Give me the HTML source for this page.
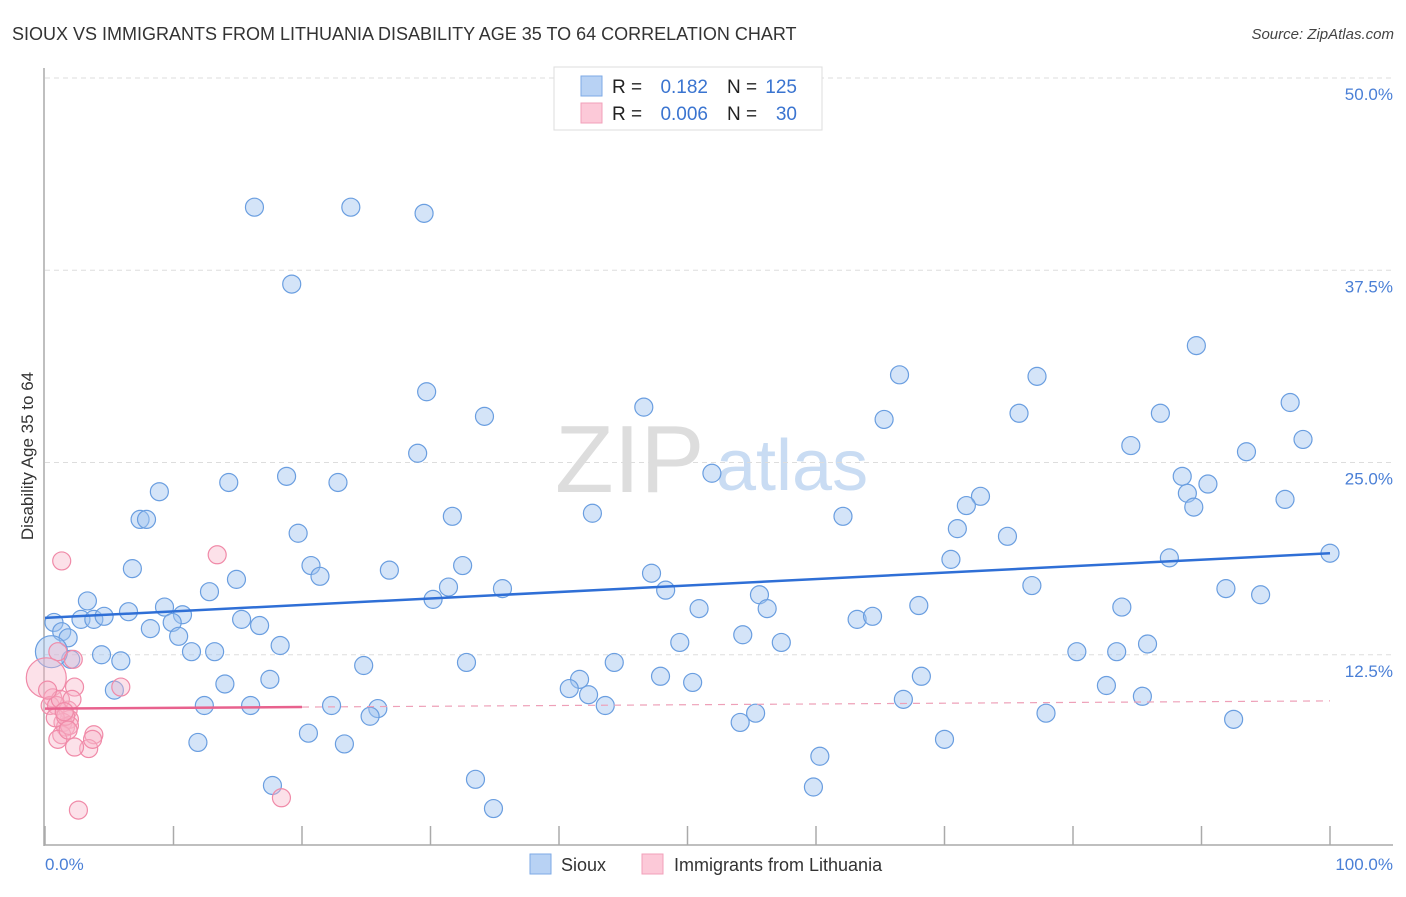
<!DOCTYPE html>
<html><head><meta charset="utf-8"><style>
body{margin:0;background:#fff;font-family:"Liberation Sans",sans-serif;}
svg text{font-family:"Liberation Sans",sans-serif;}
</style></head><body>
<svg id="chart" width="1406" height="892" xmlns="http://www.w3.org/2000/svg">
<text x="12" y="40" font-size="18" fill="#333">SIOUX VS IMMIGRANTS FROM LITHUANIA DISABILITY AGE 35 TO 64 CORRELATION CHART</text>
<text x="1394" y="39" font-size="15" fill="#444" font-style="italic" text-anchor="end">Source: ZipAtlas.com</text>
<g>
<text x="555" y="492" font-size="96" font-family="Liberation Serif" fill="#ddd">ZIP</text>
<text x="716" y="490" font-size="72" fill="#c9dcf3">atlas</text>
</g>
<g id="grid"></g>
<line x1="44" y1="68" x2="44" y2="846" stroke="#aaa" stroke-width="1.5"/>
<line x1="44" y1="845" x2="1393" y2="845" stroke="#aaa" stroke-width="1.5"/>
<g id="ticks"></g>
<text transform="translate(33,456) rotate(-90)" font-size="17" fill="#333" text-anchor="middle">Disability Age 35 to 64</text>
<text x="45" y="870" font-size="17" fill="#4a7fd6">0.0%</text>
<text x="1393" y="870" font-size="17" fill="#4a7fd6" text-anchor="end">100.0%</text>
<g id="points"></g>
<g id="trends"></g>
<g>
<rect x="554" y="67" width="268" height="63" fill="#fff" stroke="#ddd"/>
<rect x="581" y="76" width="21" height="20" fill="#b8d2f4" stroke="#7eaae6"/>
<rect x="581" y="103" width="21" height="20" fill="#fcc9d8" stroke="#f2a0ba"/>
<text x="612" y="93" font-size="19" fill="#222">R = </text><text x="708" y="93" font-size="19" fill="#3a74d0" text-anchor="end">0.182</text>
<text x="727" y="93" font-size="19" fill="#222">N = </text><text x="797" y="93" font-size="19" fill="#3a74d0" text-anchor="end">125</text>
<text x="612" y="120" font-size="19" fill="#222">R = </text><text x="708" y="120" font-size="19" fill="#3a74d0" text-anchor="end">0.006</text>
<text x="727" y="120" font-size="19" fill="#222">N = </text><text x="797" y="120" font-size="19" fill="#3a74d0" text-anchor="end">30</text>
</g>
<g>
<rect x="530" y="854" width="21" height="20" fill="#b8d2f4" stroke="#7eaae6"/>
<text x="561" y="871" font-size="18" fill="#333">Sioux</text>
<rect x="642" y="854" width="21" height="20" fill="#fcc9d8" stroke="#f2a0ba"/>
<text x="674" y="871" font-size="18" fill="#333">Immigrants from Lithuania</text>
</g>
</svg>
<script>
const yTicks=[12.5,25,37.5,50];
const yTickLabels=["12.5%","25.0%","37.5%","50.0%"];
const xTicks=[0,10,20,30,40,50,60,70,80,90,100];
const siouxX=[16.3,23.8,29.5,19.2,29.7,29.0,34.2,46.6,66.5,77.2,89.6,65.3,75.8,86.8,96.9,97.9,84.5,93.5,51.9,88.5,90.5,88.9,89.4,96.5,72.8,71.7,71.0,74.9,62.1,42.6,31.7,14.3,18.8,22.8,8.9,7.4,7.9,19.7,70.5,87.5,100,32.5,20.7,26.8,6.8,14.9,21.4,47.2,31.4,35.6,76.8,91.9,94.6,12.8,30.2,48.3,55.6,3.3,9.3,56.2,50.9,68.0,83.8,6.5,10.7,2.8,3.8,4.6,0.7,15.3,16.7,9.9,63.2,64.4,8.2,1.3,1.8,10.4,54.3,49.4,57.3,85.8,18.3,11.4,13.2,4.4,2.0,5.9,80.3,83.4,24.8,32.8,44.3,41.6,17.5,47.9,50.4,68.2,14.0,5.4,40.8,42.3,82.6,85.4,12.4,16.0,22.3,25.9,43.6,66.8,25.3,55.3,77.9,54.1,92.5,20.5,11.9,23.3,70.0,60.3,33.5,17.7,59.8,34.9,0.5];
const siouxY=[41.6,41.6,41.2,36.6,29.6,25.6,28.0,28.6,30.7,30.6,32.6,27.8,28.2,28.2,28.9,26.5,26.1,25.7,24.3,24.1,23.6,23.0,22.1,22.6,22.8,22.2,20.7,20.2,21.5,21.7,21.5,23.7,24.1,23.7,23.1,21.3,21.3,20.4,18.7,18.8,19.1,18.3,18.3,18.0,18.1,17.4,17.6,17.8,16.9,16.8,17.0,16.8,16.4,16.6,16.1,16.7,16.4,16.0,15.6,15.5,15.5,15.7,15.6,15.3,15.1,14.8,14.8,15.0,14.6,14.8,14.4,14.6,14.8,15.0,14.2,14.0,13.6,13.7,13.8,13.3,13.3,13.2,13.1,12.7,12.7,12.5,12.2,12.1,12.7,12.7,11.8,12.0,12.0,10.9,10.9,11.1,10.7,11.1,10.6,10.2,10.3,9.9,10.5,9.8,9.2,9.2,9.2,9.0,9.2,9.6,8.5,8.7,8.7,8.1,8.3,7.4,6.8,6.7,7.0,5.9,4.4,4.0,3.9,2.5,12.7];
const lithX=[1.3,13.4,1.0,2.2,0.1,2.3,5.9,0.6,0.4,0.9,1.8,1.9,1.4,1.6,1.3,1.0,3.8,3.4,2.3,18.4,2.6,1.9,1.2,0.2,0.8,1.6,2.1,1.8,3.7,1.5];
const lithY=[18.6,19.0,12.7,12.2,11.0,10.4,10.4,9.7,9.2,9.2,8.9,8.3,8.1,7.8,7.3,7.0,7.3,6.4,6.5,3.2,2.4,7.9,9.6,10.2,8.4,8.5,9.6,7.6,7.0,8.8];
const siouxTrend=[14.9,19.1];
const lithTrend=[9.0,9.5];
const NS="http://www.w3.org/2000/svg";
function sx(v){return 45+v*12.85;}
function sy(v){return 847-v*15.38;}
function mk(t,a,p){const e=document.createElementNS(NS,t);for(const k in a)e.setAttribute(k,a[k]);p.appendChild(e);return e;}
const grid=document.getElementById('grid');
yTicks.forEach((t,i)=>{
 const l=mk('line',{x1:45,x2:1393,y1:sy(t),y2:sy(t),stroke:'#ddd','stroke-dasharray':'5,4'},grid);
 
 
 const tx=mk('text',{x:1393,y:sy(t)+22,'font-size':17,fill:'#4a7fd6','text-anchor':'end'},grid);
 tx.textContent=yTickLabels[i];
 
 
});
const ticks=document.getElementById('ticks');
xTicks.forEach(t=>{
 const l=mk('line',{x1:sx(t),x2:sx(t),y1:826,y2:845,stroke:'#aaa','stroke-width':1.5},ticks);
 
 
});
const pts=document.getElementById('points');
siouxX.forEach((x,i)=>{
 const big=i===siouxX.length-1;
 const c=mk('circle',{cx:sx(x),cy:sy(siouxY[i]),r:big?16:9,fill:'rgba(160,196,240,0.45)',stroke:'#6a9ee0','stroke-width':1.2},pts);
 
 
});
lithX.forEach((x,i)=>{
 const c=mk('circle',{cx:sx(x),cy:sy(lithY[i]),r:i===4?20:9,fill:'rgba(248,180,200,0.4)',stroke:'#f08aa8','stroke-width':1.2},pts);
 
 
});
const tr=document.getElementById('trends');
const bt=mk('line',{x1:sx(0),y1:sy(siouxTrend[0]),x2:sx(100),y2:sy(siouxTrend[1]),stroke:'#2f6fd6','stroke-width':2.5},tr);


const lm=lithTrend[0]+(lithTrend[1]-lithTrend[0])*0.2;
const pt=mk('line',{x1:sx(0),y1:sy(lithTrend[0]),x2:sx(20),y2:sy(lm),stroke:'#e8628e','stroke-width':2.5},tr);


const pd=mk('line',{x1:sx(20),y1:sy(lm),x2:sx(100),y2:sy(lithTrend[1]),stroke:'#eea0b8','stroke-width':1.2,'stroke-dasharray':'7,6'},tr);


</script>
</body></html>
